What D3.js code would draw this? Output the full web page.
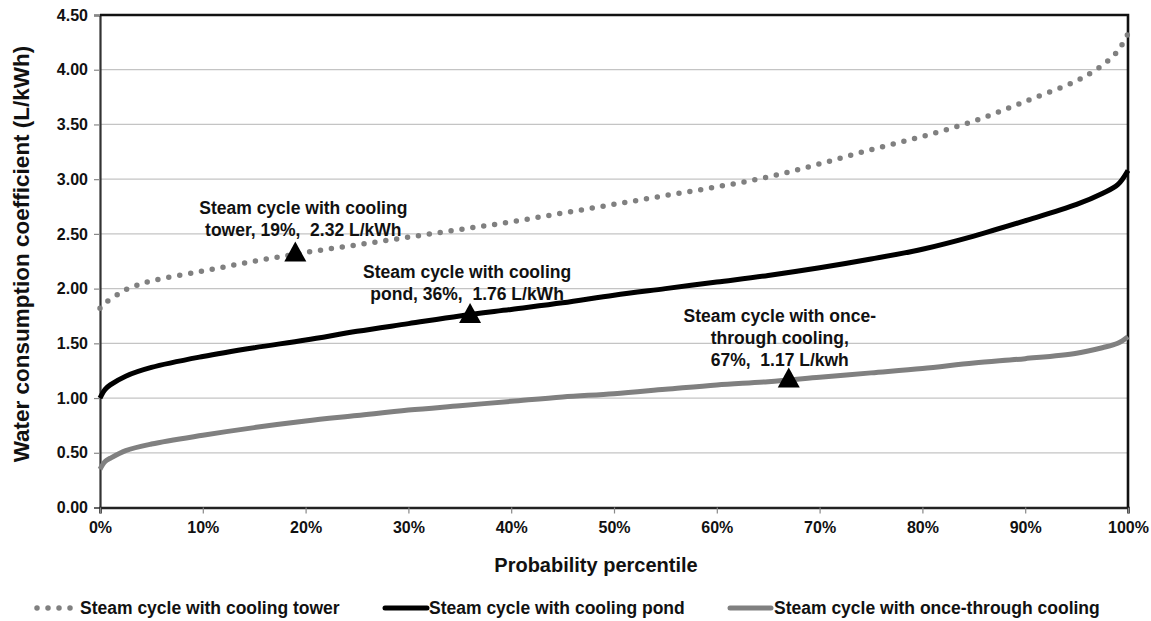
<!DOCTYPE html>
<html>
<head>
<meta charset="utf-8">
<script src="https://cdn.jsdelivr.net/npm/d3@7"></script>
<style>
  html, body { margin: 0; padding: 0; background: #fff; }
  svg { display: block; font-family: "Liberation Sans", Arial, sans-serif; font-weight: bold; }
  text { white-space: pre; }
</style>
</head>
<body>
<svg id="chart" width="1151" height="621"></svg>
<script>
// Probability percentiles (%) at which each curve is sampled
const percentiles = [0, 0.5, 1, 2.5, 5, 10, 15, 20, 25, 30, 35, 40, 45, 50, 55, 60, 65, 70, 75, 80, 85, 90, 95, 97.5, 99, 100];

// Water consumption coefficient (L/kWh) per cooling technology
const coolingTower = [1.82, 1.87, 1.90, 1.99, 2.07, 2.16, 2.25, 2.33, 2.40, 2.47, 2.54, 2.61, 2.69, 2.77, 2.85, 2.93, 3.02, 3.14, 3.27, 3.39, 3.53, 3.71, 3.90, 4.04, 4.17, 4.33];
const coolingPond  = [1.00, 1.08, 1.12, 1.20, 1.28, 1.38, 1.46, 1.53, 1.61, 1.68, 1.75, 1.81, 1.87, 1.94, 2.00, 2.06, 2.12, 2.19, 2.27, 2.36, 2.48, 2.62, 2.77, 2.87, 2.95, 3.08];
const onceThrough  = [0.35, 0.42, 0.45, 0.52, 0.58, 0.66, 0.73, 0.79, 0.84, 0.89, 0.93, 0.97, 1.01, 1.04, 1.08, 1.12, 1.15, 1.19, 1.23, 1.27, 1.32, 1.36, 1.41, 1.46, 1.50, 1.56];

const seriesNames = ["Steam cycle with cooling tower", "Steam cycle with cooling pond", "Steam cycle with once-through cooling"];

// Highlighted points and their callout text
const markerPercentiles = [19, 36, 67];
const markerValues = [2.32, 1.76, 1.17];
const markerLabels = [
  ["Steam cycle with cooling", "tower, 19%,  2.32 L/kWh"],
  ["Steam cycle with cooling", "pond, 36%,  1.76 L/kWh"],
  ["Steam cycle with once-", "through cooling,", "67%,  1.17 L/kwh"]
];

const yTicks = [0, 0.5, 1, 1.5, 2, 2.5, 3, 3.5, 4, 4.5];
const xTicks = [0, 10, 20, 30, 40, 50, 60, 70, 80, 90, 100];

const svg = d3.select("#chart");
const plot = { left: 100, top: 15, right: 1128, bottom: 507.5 };

const x = d3.scaleLinear().domain([0, 100]).range([plot.left, plot.right]);
const y = d3.scaleLinear().domain([0, 4.5]).range([plot.bottom, plot.top]);

// gridlines
svg.append("g")
  .selectAll("line")
  .data(yTicks.filter(t => t > 0 && t < 4.5))
  .join("line")
  .attr("x1", plot.left).attr("x2", plot.right)
  .attr("y1", d => y(d)).attr("y2", d => y(d))
  .attr("stroke", "#c4c4c4").attr("stroke-width", 1.2);

// y axis
const yAxis = svg.append("g")
  .attr("transform", `translate(${plot.left},0)`)
  .call(d3.axisLeft(y).tickValues(yTicks).tickFormat(d3.format(".2f")).tickSize(6).tickPadding(6));
yAxis.select(".domain").attr("stroke", "#333").attr("stroke-width", 2.2);
yAxis.selectAll(".tick line").attr("stroke", "#888").attr("stroke-width", 1.2);
yAxis.selectAll(".tick text")
  .attr("font-size", 16).attr("font-weight", "bold").attr("fill", "#111")
  .attr("font-family", "Liberation Sans, Arial, sans-serif");

// x axis
const xAxis = svg.append("g")
  .attr("transform", `translate(0,${plot.bottom})`)
  .call(d3.axisBottom(x).tickValues(xTicks).tickFormat(d => d + "%").tickSize(6).tickPadding(8));
xAxis.select(".domain").attr("stroke", "#222").attr("stroke-width", 2.6);
xAxis.selectAll(".tick line").attr("stroke", "#888").attr("stroke-width", 1.2);
xAxis.selectAll(".tick text")
  .attr("font-size", 16).attr("font-weight", "bold").attr("fill", "#111")
  .attr("font-family", "Liberation Sans, Arial, sans-serif");

// top and right frame
svg.append("path")
  .attr("d", `M${plot.left},${plot.top}H${plot.right}V${plot.bottom}`)
  .attr("fill", "none").attr("stroke", "#111").attr("stroke-width", 2.6);

// curves
const line = d3.line()
  .x((d, i) => x(percentiles[i]))
  .y(d => y(d))
  .curve(d3.curveCatmullRom.alpha(0.5));

svg.append("path")
  .datum(onceThrough)
  .attr("d", line)
  .attr("fill", "none").attr("stroke", "#808080").attr("stroke-width", 5);

svg.append("path")
  .datum(coolingPond)
  .attr("d", line)
  .attr("fill", "none").attr("stroke", "#000").attr("stroke-width", 5);

svg.append("path")
  .datum(coolingTower)
  .attr("d", line)
  .attr("fill", "none").attr("stroke", "#808080").attr("stroke-width", 5.5)
  .attr("stroke-dasharray", "0 11").attr("stroke-linecap", "round");

// triangle markers
const tri = (cx, cy) => `M${cx},${cy - 12}L${cx + 11},${cy + 8}L${cx - 11},${cy + 8}Z`;
svg.append("g")
  .selectAll("path")
  .data(markerPercentiles)
  .join("path")
  .attr("d", (p, i) => tri(x(p), y(markerValues[i])))
  .attr("fill", "#000");

// callout labels
const labelOffsets = [
  { dx: 8, dy: -40 },
  { dx: -3, dy: -37 },
  { dx: -9, dy: -57 }
];
markerPercentiles.forEach((p, i) => {
  const cx = x(p) + labelOffsets[i].dx;
  const cy = y(markerValues[i]) + labelOffsets[i].dy;
  const t = svg.append("text")
    .attr("text-anchor", "middle")
    .attr("font-size", 17.5)
    .attr("fill", "#111");
  markerLabels[i].forEach((ln, j) => {
    t.append("tspan").attr("x", cx).attr("y", cy + j * 22).text(ln);
  });
});

// axis titles
svg.append("text")
  .attr("x", 596).attr("y", 572)
  .attr("text-anchor", "middle")
  .attr("font-size", 20).attr("fill", "#111")
  .text("Probability percentile");

svg.append("text")
  .attr("transform", "translate(29,254) rotate(-90)")
  .attr("text-anchor", "middle")
  .attr("font-size", 22.5).attr("fill", "#111")
  .text("Water consumption coefficient (L/kWh)");

// legend
const legendY = 608;
const legendItems = [
  { x1: 37, x2: 71, tx: 80, stroke: "#808080", width: 5.5, dash: "0 11", cap: "round" },
  { x1: 385, x2: 427, tx: 429, stroke: "#000", width: 5, dash: null, cap: "round" },
  { x1: 730, x2: 771, tx: 774, stroke: "#808080", width: 5, dash: null, cap: "round" }
];
legendItems.forEach((it, i) => {
  svg.append("line")
    .attr("x1", it.x1).attr("x2", it.x2)
    .attr("y1", legendY).attr("y2", legendY)
    .attr("stroke", it.stroke).attr("stroke-width", it.width)
    .attr("stroke-linecap", it.cap)
    .attr("stroke-dasharray", it.dash);
  svg.append("text")
    .attr("x", it.tx).attr("y", legendY + 6)
    .attr("font-size", 17.5).attr("fill", "#111")
    .text(seriesNames[i]);
});
</script>
</body>
</html>
